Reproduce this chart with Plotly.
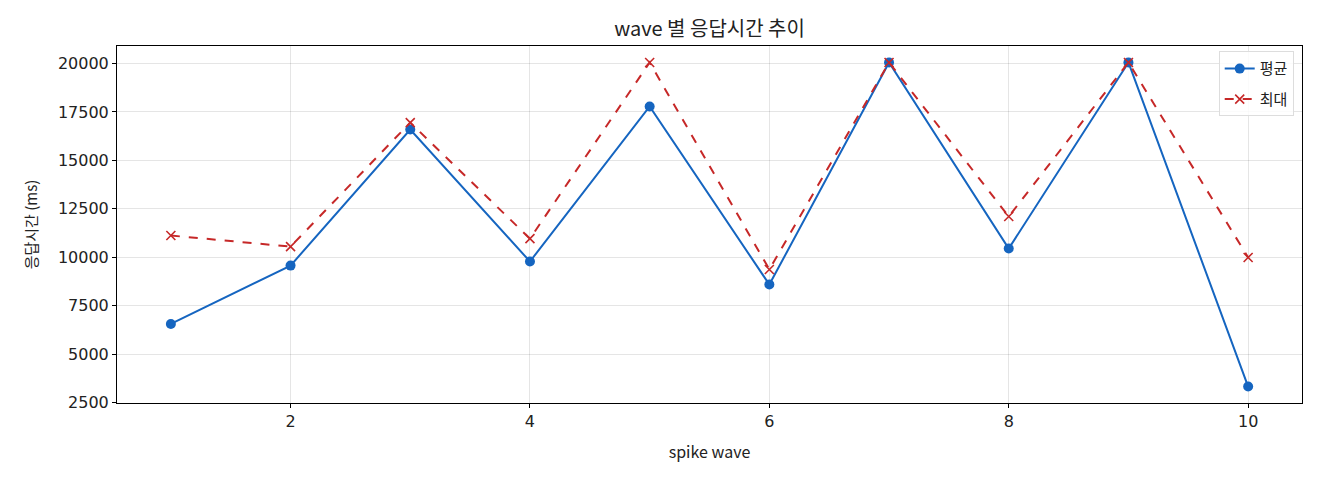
import plotly.graph_objects as go

waves = [1, 2, 3, 4, 5, 6, 7, 8, 9, 10]
avg_ms = [6560, 9570, 16590, 9780, 17780, 8590, 20050, 10450, 20050, 3330]
max_ms = [11120, 10550, 16950, 10960, 20050, 9370, 20050, 12100, 20050, 9990]

font_family = "Noto Sans CJK KR, Noto Sans, sans-serif"
tick_family = "DejaVu Sans, sans-serif"

fig = go.Figure()
fig.add_trace(go.Scatter(
    x=waves, y=avg_ms, name="평균", mode="lines+markers", legendgroup="avg",
    line=dict(color="#1565C0", width=2),
    marker=dict(symbol="circle", size=10, color="#1565C0")))
fig.add_trace(go.Scatter(
    x=waves, y=max_ms, name="최대", mode="lines+markers", legendgroup="max",
    line=dict(color="#C62828", width=2, dash="dash"),
    marker=dict(symbol="x-thin", size=9, line=dict(color="#C62828", width=1.6))))

axis_common = dict(showline=True, linecolor="black", linewidth=1, mirror=True,
                   ticks="outside", ticklen=4, tickcolor="black", automargin=False,
                   showgrid=True, gridcolor="rgba(0,0,0,0.1)", zeroline=False,
                   tickfont=dict(family=tick_family, size=16, color="#222"))

# page body adds an 8px offset, so the figure is a bit smaller than the window
fig.update_layout(
    width=1304, height=464,
    paper_bgcolor="white", plot_bgcolor="white",
    font=dict(family=font_family, color="#222"),
    title=dict(text="wave 별 응답시간 추이", x=0.5, xref="paper", xanchor="center",
               y=0.955, yanchor="middle", font=dict(size=20)),
    margin=dict(l=109, r=10, t=38, b=69),
    legend=dict(x=0.993, y=0.985, xanchor="right", yanchor="top",
                bgcolor="rgba(255,255,255,0.85)", bordercolor="#ddd", borderwidth=1,
                font=dict(size=15), tracegroupgap=8),
    xaxis=dict(range=[0.55, 10.45], tickvals=[2, 4, 6, 8, 10],
               title=dict(text="spike wave", font=dict(size=16), standoff=16), **axis_common),
    yaxis=dict(range=[2480, 20900], tickvals=[2500, 5000, 7500, 10000, 12500, 15000, 17500, 20000],
               tickformat="d",
               title=dict(text="응답시간 (ms)", font=dict(size=15), standoff=16), **axis_common),
)

fig.write_html("out.html")
